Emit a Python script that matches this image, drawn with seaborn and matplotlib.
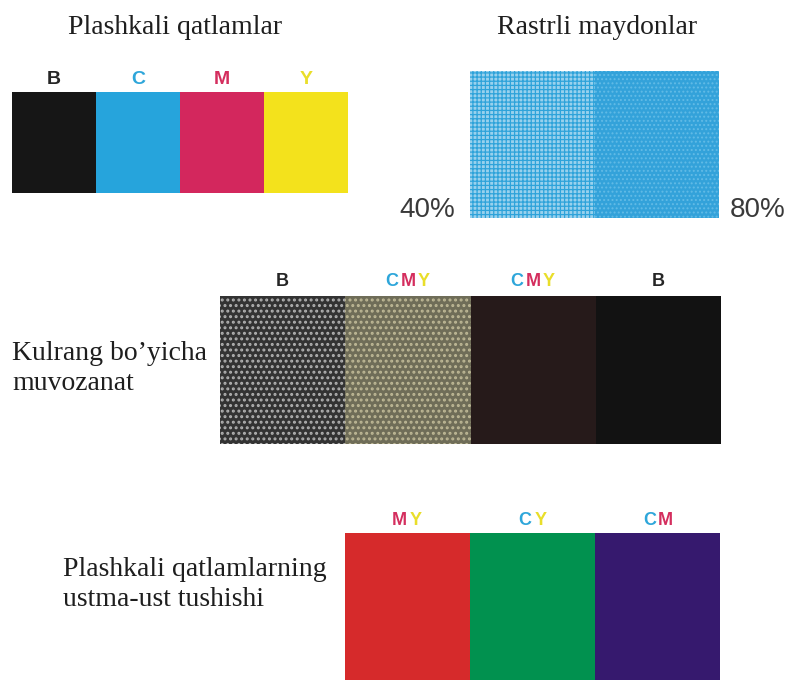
import matplotlib
matplotlib.use("Agg")
import matplotlib.pyplot as plt
from matplotlib.colors import ListedColormap, LinearSegmentedColormap
from matplotlib.patches import Rectangle
import pandas as pd
import seaborn as sns

# --- data -------------------------------------------------------------
solid_inks = ["B", "C", "M", "Y"]
tint_values = [40, 80]
tint_labels = ["40%", "80%"]
grey_inks = ["B", "CMY", "CMY", "B"]
overprint_inks = ["MY", "CY", "CM"]

titles = ["Plashkali qatlamlar", "Rastrli maydonlar"]
row_titles = ["Kulrang bo’yicha\nmuvozanat",
              "Plashkali qatlamlarning\nustma-ust tushishi"]

# --- styles -----------------------------------------------------------
letter_colors = {"B": "#262626", "C": "#2ea6da", "M": "#d42e5e", "Y": "#e9de2a"}
solid_colors = ["#161616", "#26a4dc", "#d3275d", "#f3e21c"]
grey_colors = ["#333333", "#6f6d58", "#261a1a", "#121212"]
grey_hatch = [("...", "#b0b0b0"), ("...", "#bdb795"), None, None]
overprint_colors = ["#d62a2b", "#01914f", "#36196e"]
tint_hatch = [("++++", "#2ea3da"), ("....", "#62bbe6")]

SERIF = "Liberation Serif"
SANS = "Liberation Sans"
W, H = 785, 680

fig = plt.figure(figsize=(W / 100, H / 100), dpi=100)


def box(x0, y0, x1, y1):
    return fig.add_axes([x0 / W, 1 - y1 / H, (x1 - x0) / W, (y1 - y0) / H])


def strip(ax, names, colors):
    df = pd.DataFrame([range(len(names))], columns=range(len(names)))
    sns.heatmap(df, cmap=ListedColormap(colors), vmin=-0.5,
                vmax=len(names) - 0.5, cbar=False, xticklabels=False,
                yticklabels=False, linewidths=0, ax=ax)


def hatch(ax, i, spec, lw=1.0):
    if spec is None:
        return
    p = Rectangle((i, 0), 1, 1, facecolor="none", edgecolor=spec[1],
                  hatch=spec[0], lw=0)
    if hasattr(p, "set_hatch_linewidth"):
        p.set_hatch_linewidth(lw)
    ax.add_patch(p)


def ink_label(ax, i, name, pad, size, step=16):
    n = len(name)
    for k, ch in enumerate(name):
        ax.annotate(ch, xy=(i + 0.5, 0), xytext=((k - (n - 1) / 2) * step, pad),
                    textcoords="offset pixels", ha="center", va="baseline",
                    color=letter_colors[ch], fontsize=size, fontweight="bold",
                    family=SANS, annotation_clip=False)


# solid inks
ax1 = box(12, 92, 348, 193)
strip(ax1, solid_inks, solid_colors)
for i, name in enumerate(solid_inks):
    ink_label(ax1, i, name, 8, 14)

# halftone tints
ax2 = box(470, 71, 719, 218)
cyan = LinearSegmentedColormap.from_list("cyan", ["white", "#008bd1"])
sns.heatmap(pd.DataFrame([tint_values]), cmap=cyan, vmin=0, vmax=100,
            cbar=False, xticklabels=False, yticklabels=False, ax=ax2)
for i, spec in enumerate(tint_hatch):
    hatch(ax2, i, spec, 0.9)
ax2.annotate(tint_labels[0], xy=(0, 1), xytext=(-15, 1),
             textcoords="offset pixels", ha="right", va="baseline",
             fontsize=20, color="#3a3a3a", family=SANS, annotation_clip=False)
ax2.annotate(tint_labels[1], xy=(len(tint_values), 1), xytext=(11, 1),
             textcoords="offset pixels", ha="left", va="baseline",
             fontsize=20, color="#3a3a3a", family=SANS, annotation_clip=False)

# grey balance
ax3 = box(220, 296, 721, 444)
strip(ax3, grey_inks, grey_colors)
for i, spec in enumerate(grey_hatch):
    hatch(ax3, i, spec, 1.4)
for i, name in enumerate(grey_inks):
    ink_label(ax3, i, name, 10, 13)

# overprints
ax4 = box(345, 533, 720, 680)
strip(ax4, overprint_inks, overprint_colors)
for i, name in enumerate(overprint_inks):
    ink_label(ax4, i, name, 8, 13)

# titles
fig.text(175 / W, 1 - 34 / H, titles[0], ha="center", va="baseline",
         fontsize=20, family=SERIF, color="#1e1e1e")
fig.text(597 / W, 1 - 34 / H, titles[1], ha="center", va="baseline",
         fontsize=20, family=SERIF, color="#1e1e1e")
fig.text(12 / W, 1 - 341 / H, row_titles[0], ha="left", va="top",
         fontsize=20, family=SERIF, color="#1e1e1e", linespacing=1.25)
fig.text(63 / W, 1 - 557 / H, row_titles[1], ha="left", va="top",
         fontsize=20, family=SERIF, color="#1e1e1e", linespacing=1.25)

fig.savefig("out.png", dpi=100)
